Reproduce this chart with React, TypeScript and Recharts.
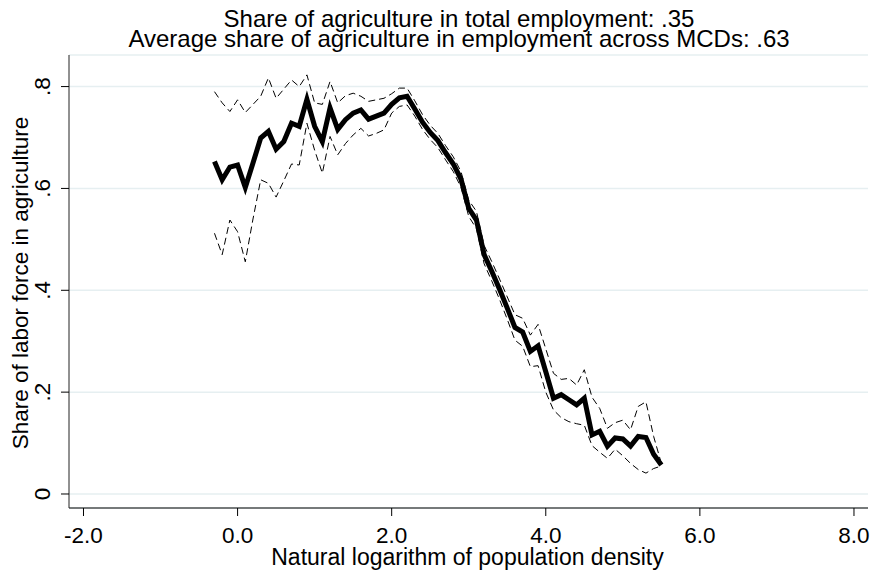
import { LineChart, Line, XAxis, YAxis, CartesianGrid } from 'recharts';

// ln(population density) bins
const logDensity = [
  -0.3, -0.2, -0.1, 0.0, 0.1, 0.2, 0.3, 0.4, 0.5, 0.6, 0.7, 0.8, 0.9, 1.0, 1.1,
  1.2, 1.3, 1.4, 1.5, 1.6, 1.7, 1.8, 1.9, 2.0, 2.1, 2.2, 2.3, 2.4, 2.5, 2.6,
  2.7, 2.8, 2.9, 3.0, 3.1, 3.2, 3.3, 3.4, 3.5, 3.6, 3.7, 3.8, 3.9, 4.0, 4.1,
  4.2, 4.3, 4.4, 4.5, 4.6, 4.7, 4.8, 4.9, 5.0, 5.1, 5.2, 5.3, 5.4, 5.5,
];

// share of labor force in agriculture (local mean)
const agriShare = [
  0.653, 0.617, 0.642, 0.646, 0.602, 0.65, 0.699, 0.712, 0.677, 0.692, 0.728,
  0.722, 0.775, 0.722, 0.692, 0.758, 0.716, 0.735, 0.748, 0.754, 0.736, 0.742,
  0.748, 0.765, 0.778, 0.781, 0.756, 0.73, 0.71, 0.694, 0.67, 0.648, 0.618,
  0.561, 0.538, 0.47, 0.437, 0.402, 0.365, 0.327, 0.318, 0.28, 0.291, 0.24,
  0.188, 0.195, 0.185, 0.175, 0.188, 0.116, 0.123, 0.094, 0.11, 0.108, 0.094,
  0.113, 0.111, 0.078, 0.057,
];

// confidence band
const upperBand = [
  0.79, 0.768, 0.751, 0.774, 0.749, 0.765, 0.781, 0.817, 0.777, 0.795, 0.813,
  0.8, 0.823, 0.768, 0.765, 0.81, 0.768, 0.782, 0.787, 0.781, 0.771, 0.774,
  0.777, 0.786, 0.797, 0.797, 0.772, 0.745, 0.724, 0.708, 0.684, 0.662, 0.633,
  0.577, 0.555, 0.488, 0.456, 0.422, 0.387, 0.352, 0.345, 0.312, 0.333, 0.285,
  0.237, 0.225, 0.227, 0.214, 0.244, 0.19, 0.168, 0.129, 0.14, 0.145, 0.126,
  0.172, 0.181, 0.113, 0.06,
];

const lowerBand = [
  0.512, 0.47, 0.538, 0.515, 0.456, 0.54, 0.617, 0.61, 0.583, 0.615, 0.648,
  0.646, 0.728, 0.675, 0.63, 0.702, 0.666, 0.688, 0.705, 0.718, 0.703, 0.708,
  0.715, 0.748, 0.761, 0.764, 0.742, 0.716, 0.696, 0.68, 0.656, 0.633, 0.602,
  0.545, 0.521, 0.452, 0.418, 0.382, 0.343, 0.302, 0.29, 0.25, 0.252, 0.2,
  0.165, 0.15, 0.142, 0.138, 0.135, 0.095, 0.082, 0.07, 0.088, 0.075, 0.06,
  0.048, 0.041, 0.05, 0.055,
];

const xTicks = [-2, 0, 2, 4, 6, 8];
const yTicks = [0, 0.2, 0.4, 0.6, 0.8];

const FONT = '"Liberation Sans", Arial, Helvetica, sans-serif';

const data = logDensity.map((x, i) => ({
  x,
  share: agriShare[i],
  hi: upperBand[i],
  lo: lowerBand[i],
}));

function XTick({ x, payload }: any) {
  return (
    <text x={x} y={543} textAnchor='middle' fontSize={22.5} fontFamily={FONT} fill='#000'>
      {Number(payload.value).toFixed(1)}
    </text>
  );
}

function YTick({ y, payload }: any) {
  const v = Number(payload.value);
  const label = v === 0 ? '0' : v.toFixed(1).replace(/^0/, '');
  return (
    <text
      transform={`translate(50, ${y}) rotate(-90)`}
      textAnchor='middle'
      fontSize={22.5}
      fontFamily={FONT}
      fill='#000'
    >
      {label}
    </text>
  );
}

const titleLine = {
  position: 'absolute' as const,
  left: 0,
  width: 918,
  textAlign: 'center' as const,
  fontSize: 24,
  lineHeight: '18px',
  whiteSpace: 'nowrap' as const,
  color: '#000',
};

export default function App() {
  return (
    <div
      style={{
        position: 'absolute',
        left: 0,
        top: 0,
        width: 873,
        height: 576,
        background: '#fff',
        fontFamily: FONT,
      }}
    >
      <div style={{ ...titleLine, top: 10 }}>
        Share of agriculture in total employment: .35
      </div>
      <div style={{ ...titleLine, top: 30 }}>
        Average share of agriculture in employment across MCDs: .63
      </div>

      <div
        style={{
          position: 'absolute',
          left: 21,
          top: 283,
          transform: 'translate(-50%, -50%) rotate(-90deg)',
          whiteSpace: 'nowrap',
          fontSize: 22.5,
          lineHeight: '22.5px',
        }}
      >
        Share of labor force in agriculture
      </div>

      <div
        style={{
          position: 'absolute',
          left: 0,
          width: 935,
          top: 548.5,
          textAlign: 'center',
          fontSize: 23,
          lineHeight: '16px',
          whiteSpace: 'nowrap',
        }}
      >
        Natural logarithm of population density
      </div>

      <LineChart
        width={873}
        height={576}
        data={data}
        margin={{ top: 55, right: 5, bottom: 0, left: 0 }}
      >
        <CartesianGrid
          horizontal
          vertical={false}
          stroke='#e6eff1'
          strokeWidth={1.5}
        />
        <XAxis
          type='number'
          dataKey='x'
          domain={[-2.188, 8.182]}
          ticks={xTicks}
          allowDataOverflow
          height={68}
          tickSize={8}
          tick={<XTick />}
          axisLine={{ stroke: '#000', strokeWidth: 1 }}
          tickLine={{ stroke: '#000' }}
        />
        <YAxis
          type='number'
          domain={[-0.0275, 0.862]}
          ticks={yTicks}
          allowDataOverflow
          width={69}
          tickSize={8}
          tick={<YTick />}
          axisLine={{ stroke: '#222', strokeWidth: 1 }}
          tickLine={{ stroke: '#000' }}
        />
        <Line
          type='linear'
          dataKey='hi'
          stroke='#000'
          strokeWidth={1}
          strokeDasharray='7 4'
          dot={false}
          isAnimationActive={false}
        />
        <Line
          type='linear'
          dataKey='lo'
          stroke='#000'
          strokeWidth={1}
          strokeDasharray='7 4'
          dot={false}
          isAnimationActive={false}
        />
        <Line
          type='linear'
          dataKey='share'
          stroke='#000'
          strokeWidth={5}
          dot={false}
          isAnimationActive={false}
        />
      </LineChart>
    </div>
  );
}
